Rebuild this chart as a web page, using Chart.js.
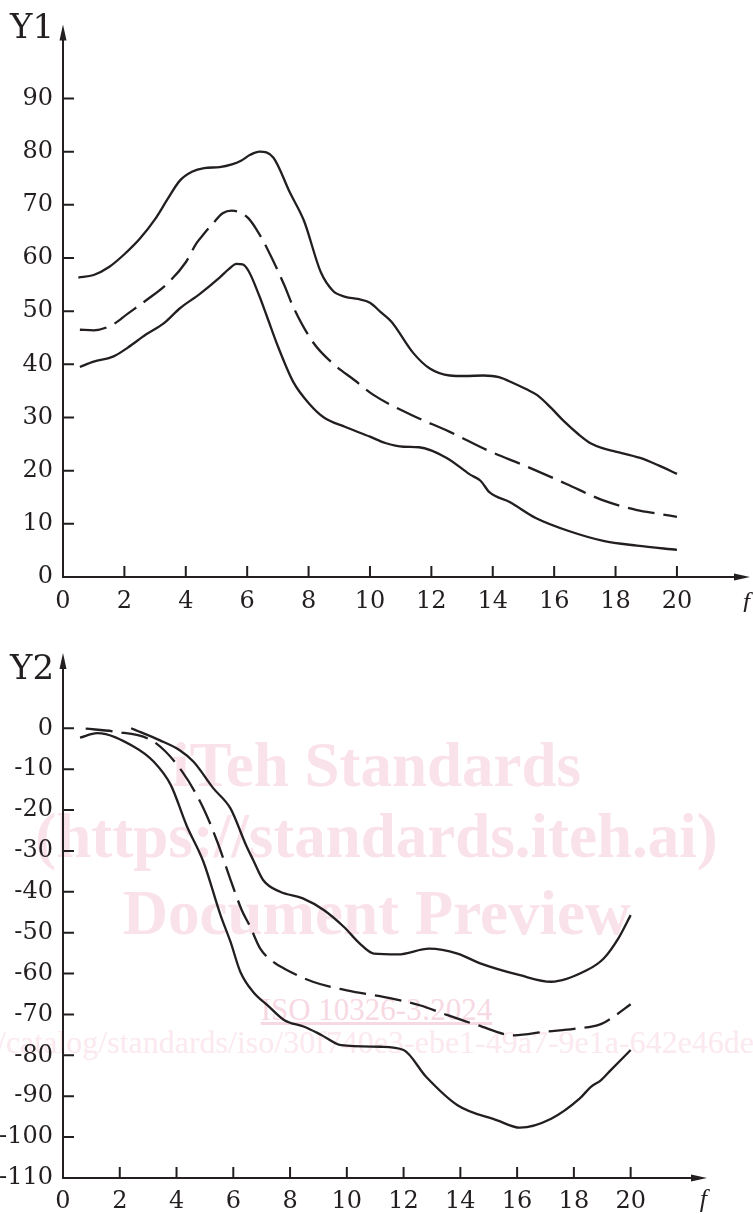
<!DOCTYPE html>
<html>
<head>
<meta charset="utf-8">
<script src="https://cdn.jsdelivr.net/npm/chart.js@4.4.1/dist/chart.umd.min.js"></script>
<style>
  html, body { margin: 0; padding: 0; background: #fff; }
  body { width: 753px; height: 1214px; position: relative; overflow: hidden; }
  canvas { position: absolute; left: 0; }
  #graficoY1 { top: 0; }
  #graficoY2 { top: 612px; }
  .marca { position: absolute; left: 0; width: 753px; text-align: center; font-family: 'Liberation Serif', serif; line-height: 1; white-space: nowrap; }
  .forte { font-weight: bold; font-size: 63px; color: #fae2ea; }
</style>
</head>
<body>
<div class="marca forte" style="top:734px">iTeh Standards</div>
<div class="marca forte" style="top:805px">(https://standards.iteh.ai)</div>
<div class="marca forte" style="top:882px">Document Preview</div>
<div class="marca" style="top:994px;font-size:31px;color:#f7d9e3;text-decoration:underline">ISO 10326-3:2024</div>
<div class="marca" style="top:1026px;font-size:32px;color:#fbe9ef;text-align:left;left:-3px">/catalog/standards/iso/30f740e3-ebe1-49a7-9e1a-642e46de-</div>

<canvas id="graficoY1" width="753" height="612"></canvas>
<canvas id="graficoY2" width="753" height="602"></canvas>

<script>
// eixo f (comum)
const fTicks = [0, 2, 4, 6, 8, 10, 12, 14, 16, 18, 20];

// grafico Y1
const y1Ticks = [0, 10, 20, 30, 40, 50, 60, 70, 80, 90];

const y1UpperF = [0.5, 1.0, 1.5, 2.0, 2.5, 3.0, 3.4, 3.8, 4.2, 4.6, 5.1, 5.5, 5.8, 6.1, 6.4, 6.85, 7.4, 7.85, 8.4, 8.8, 9.2, 9.6, 10.0, 10.35, 10.7, 11.4, 11.95, 12.6, 13.1, 13.7, 14.2, 14.7, 15.1, 15.45, 15.9, 16.3, 16.8, 17.2, 17.6, 18.0, 18.8, 19.4, 20.0];
const y1Upper = [56.3, 56.8, 58.3, 60.7, 63.6, 67.3, 71.0, 74.5, 76.2, 76.9, 77.1, 77.6, 78.3, 79.4, 80.0, 78.9, 72.2, 67.0, 57.3, 53.8, 52.7, 52.3, 51.6, 49.8, 48.0, 42.2, 39.2, 37.9, 37.8, 37.9, 37.6, 36.4, 35.3, 34.2, 31.8, 29.4, 26.8, 25.1, 24.2, 23.6, 22.4, 21.0, 19.4];

const y1MeanF = [0.55, 1.0, 1.6, 2.1, 2.7, 3.4, 4.0, 4.35, 4.6, 4.9, 5.2, 5.5, 5.8, 6.05, 6.3, 6.65, 7.2, 7.5, 8.15, 8.8, 9.5, 10.1, 11.3, 12.6, 13.8, 15.1, 16.4, 17.6, 18.7, 19.4, 20.0];
const y1Mean = [46.5, 46.4, 47.4, 49.5, 52.0, 55.2, 59.2, 62.8, 64.6, 66.6, 68.4, 68.9, 68.5, 67.4, 65.4, 61.8, 55.0, 50.8, 44.1, 40.1, 37.0, 34.3, 30.6, 27.3, 23.9, 20.8, 17.5, 14.4, 12.6, 11.9, 11.3];

const y1LowerF = [0.55, 1.0, 1.65, 2.1, 2.7, 3.3, 3.8, 4.45, 5.1, 5.4, 5.65, 5.85, 6.05, 6.4, 6.65, 7.0, 7.5, 8.05, 8.5, 9.2, 10.0, 10.5, 11.1, 11.6, 12.5, 13.25, 13.6, 13.9, 14.55, 15.4, 16.5, 17.6, 18.7, 20.0];
const y1Lower = [39.5, 40.5, 41.5, 43.1, 45.6, 47.8, 50.5, 53.2, 56.3, 57.9, 58.9, 58.8, 57.5, 52.8, 48.9, 43.4, 36.7, 32.4, 30.0, 28.2, 26.4, 25.2, 24.5, 24.4, 22.4, 19.3, 18.1, 15.9, 14.1, 11.1, 8.6, 6.8, 5.9, 5.1];

// grafico Y2
const y2Ticks = [0, -10, -20, -30, -40, -50, -60, -70, -80, -90, -100, -110];

const y2UpperF = [2.4, 3.4, 4.1, 4.6, 5.3, 5.9, 6.45, 6.7, 7.05, 7.65, 8.45, 9.2, 9.9, 10.45, 10.95, 11.8, 12.9, 13.9, 14.7, 16.1, 17.2, 18.45, 19.05, 19.6, 20.0];
const y2Upper = [0, -2.9, -5.3, -8.2, -14.7, -19.6, -28.6, -32.2, -37.1, -40.0, -41.6, -44.5, -48.6, -52.6, -55.1, -55.3, -53.9, -55.1, -57.5, -60.4, -62.0, -59.2, -56.3, -51.0, -45.7];

const y2MeanF = [0.8, 1.8, 3.2, 4.2, 4.95, 5.45, 5.9, 6.3, 6.6, 6.95, 7.4, 7.8, 8.8, 10.0, 11.6, 12.6, 13.4, 14.6, 15.9, 17.0, 18.0, 18.9, 19.3, 20.0];
const y2Mean = [-0.1, -0.8, -3.3, -10.6, -19.6, -28.0, -37.0, -44.5, -48.6, -53.9, -57.1, -58.8, -62.0, -64.1, -66.1, -67.8, -69.8, -72.6, -75.1, -74.2, -73.5, -72.5, -71.0, -67.5];

const y2LowerF = [0.6, 1.2, 2.5, 3.2, 3.8, 4.35, 4.95, 5.55, 5.9, 6.25, 6.7, 7.2, 7.8, 8.5, 9.1, 9.8, 11.2, 12.0, 12.8, 13.9, 15.3, 16.1, 17.2, 18.2, 18.6, 18.95, 19.3, 20.0];
const y2Lower = [-2.3, -1.2, -4.5, -8.2, -13.9, -23.7, -32.7, -45.7, -52.2, -59.6, -64.5, -67.7, -71.4, -73.0, -75.0, -77.5, -77.9, -78.7, -85.3, -92.2, -95.9, -97.7, -95.5, -90.6, -87.7, -86.1, -83.6, -78.7];

const tinta = '#231f20';

function pontos(fs, vs) {
    return fs.map((f, i) => ({ x: f, y: vs[i] }));
}

function serie(fs, vs, tracejada) {
    return {
        data: pontos(fs, vs),
        borderColor: tinta,
        borderWidth: 2.3,
        borderDash: tracejada ? [27, 9] : [],
        pointRadius: 0,
        cubicInterpolationMode: 'monotone',
        fill: false
    };
}

// eixos com seta, marcas para dentro, titulo e "f"
const eixosComSeta = {
    id: 'eixosComSeta',
    afterDatasetsDraw(chart, args, o) {
        const { ctx, chartArea: a, scales: { x, y } } = chart;
        const x0 = x.getPixelForValue(0);
        const yb = y.getPixelForValue(y.min);
        ctx.save();
        ctx.strokeStyle = tinta;
        ctx.fillStyle = tinta;
        ctx.lineWidth = 2;
        ctx.beginPath();
        ctx.moveTo(x0 - 1, yb);
        ctx.lineTo(a.right - 12, yb);
        ctx.moveTo(x0, yb + 1);
        ctx.lineTo(x0, a.top + 12);
        for (const t of x.ticks) {
            if (t.value === 0) continue;
            const px = x.getPixelForValue(t.value);
            ctx.moveTo(px, yb);
            ctx.lineTo(px, yb - 11);
        }
        for (const t of y.ticks) {
            if (t.value === y.min) continue;
            const py = y.getPixelForValue(t.value);
            ctx.moveTo(x0, py);
            ctx.lineTo(x0 + 11, py);
        }
        ctx.stroke();

        ctx.beginPath();
        ctx.moveTo(a.right, yb);
        ctx.lineTo(a.right - 16, yb - 3.5);
        ctx.lineTo(a.right - 16, yb + 3.5);
        ctx.closePath();
        ctx.moveTo(x0, a.top);
        ctx.lineTo(x0 - 3.5, a.top + 16);
        ctx.lineTo(x0 + 3.5, a.top + 16);
        ctx.closePath();
        ctx.fill();

        ctx.textBaseline = 'alphabetic';
        ctx.textAlign = 'left';
        ctx.font = '34px "DejaVu Serif"';
        ctx.fillText(o.titulo, 10, o.tituloY);
        ctx.textAlign = 'right';
        ctx.font = 'italic 26px "Liberation Serif"';
        ctx.fillText('f', a.right, o.fY);
        ctx.restore();
    }
};

function plotarGrafico(id, datasets, cfg) {
    return new Chart(document.getElementById(id), {
        type: 'line',
        data: { datasets: datasets },
        options: {
            responsive: false,
            animation: false,
            events: [],
            layout: { padding: { top: cfg.padTop, right: cfg.padRight, left: 0, bottom: 0 } },
            plugins: {
                legend: { display: false },
                tooltip: { enabled: false },
                eixosComSeta: { titulo: cfg.titulo, tituloY: cfg.tituloY, fY: cfg.fY }
            },
            scales: {
                x: {
                    type: 'linear',
                    min: 0,
                    max: cfg.xMax,
                    grid: { display: false, drawTicks: false },
                    border: { display: false },
                    afterBuildTicks: s => { s.ticks = fTicks.map(v => ({ value: v })); },
                    afterFit: s => { s.height = cfg.xAltura; },
                    ticks: { color: tinta, padding: cfg.xPad, maxRotation: 0, font: { family: 'DejaVu Serif', size: 24 } }
                },
                y: {
                    type: 'linear',
                    min: cfg.yMin,
                    max: cfg.yMax,
                    grid: { display: false, drawTicks: false },
                    border: { display: false },
                    afterBuildTicks: s => { s.ticks = cfg.yTicks.map(v => ({ value: v })); },
                    afterFit: s => { s.width = 63; },
                    ticks: { color: tinta, padding: 10, font: { family: 'DejaVu Serif', size: 24 } }
                }
            }
        },
        plugins: [eixosComSeta]
    });
}

plotarGrafico('graficoY1', [
    serie(y1UpperF, y1Upper, false),
    serie(y1MeanF, y1Mean, true),
    serie(y1LowerF, y1Lower, false)
], {
    padTop: 10, padRight: 3, xMax: 22.38, xAltura: 35, xPad: 10,
    yMin: 0, yMax: 103.93, yTicks: y1Ticks,
    titulo: 'Y1', tituloY: 38, fY: 610
});

plotarGrafico('graficoY2', [
    serie(y2UpperF, y2Upper, false),
    serie(y2MeanF, y2Mean, true),
    serie(y2LowerF, y2Lower, false)
], {
    padTop: 41, padRight: 46, xMax: 22.69, xAltura: 36, xPad: 9,
    yMin: -110, yMax: 18.42, yTicks: y2Ticks,
    titulo: 'Y2', tituloY: 67, fY: 595
});
</script>
</body>
</html>
